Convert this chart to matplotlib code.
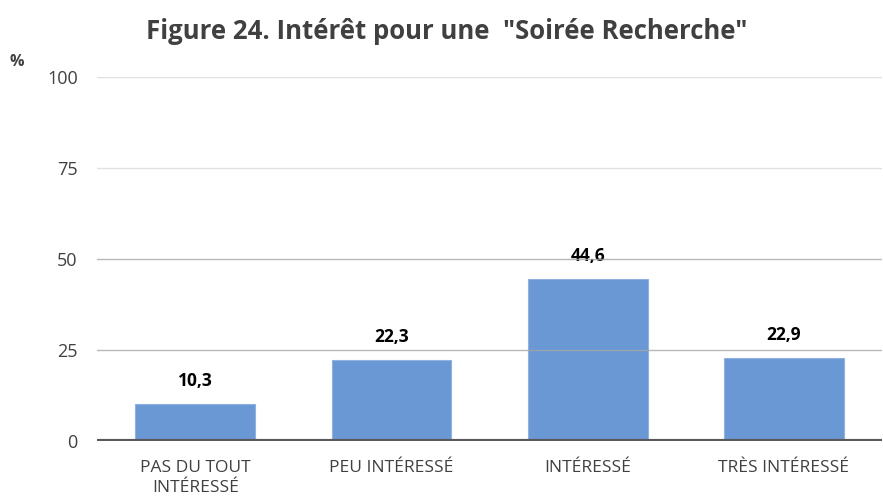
import matplotlib
matplotlib.use("Agg")
import matplotlib.pyplot as plt

categories = ['PAS DU TOUT\nINTÉRESSÉ', 'PEU INTÉRESSÉ', 'INTÉRESSÉ', 'TRÈS INTÉRESSÉ']
values = [10.3, 22.3, 44.6, 22.9]
yticks = [0, 25, 50, 75, 100]

plt.rcParams['font.family'] = ['Open Sans', 'DejaVu Sans']

fig = plt.figure(figsize=(8.83, 4.97), dpi=100)
ax = fig.add_axes([0.110, 0.1127, 0.889, 0.7323])

x = range(len(categories))
ax.bar(x, values, width=0.61, color='#6a98d4', edgecolor='#8fb2e0', linewidth=0.8, zorder=2)

for i, v in enumerate(values):
    ax.text(i, v + 6.3, f"{v:.1f}".replace('.', ','), ha='center', va='center',
            fontsize=12.5, fontweight='bold', color='black')

ax.set_ylim(0, 100)
ax.set_xlim(-0.5, len(categories) - 0.5)
ax.set_yticks(yticks)
ax.set_yticklabels([str(t) for t in yticks], fontsize=13, color='#404040')
ax.set_xticks(list(x))
ax.set_xticklabels(categories, fontsize=12.5, color='#404040', linespacing=1.3)
ax.tick_params(length=0)
ax.tick_params(axis='y', pad=14)
ax.tick_params(axis='x', pad=14)

for t in yticks[1:]:
    ax.axhline(t, color='#a6a6a6' if t < 75 else '#d9d9d9', linewidth=1, zorder=3, alpha=0.8)
ax.axhline(0, color='#595959', linewidth=3, zorder=4)

for s in ax.spines.values():
    s.set_visible(False)

fig.text(0.506, 0.937, 'Figure 24. Intérêt pour une  "Soirée Recherche"', ha='center', va='center',
         fontsize=18.5, fontweight='bold', color='#404040')
fig.text(0.019, 0.875, '%', ha='center', va='center', fontsize=11.5, fontweight='bold', color='#404040')

fig.savefig('out.png', dpi=100)
